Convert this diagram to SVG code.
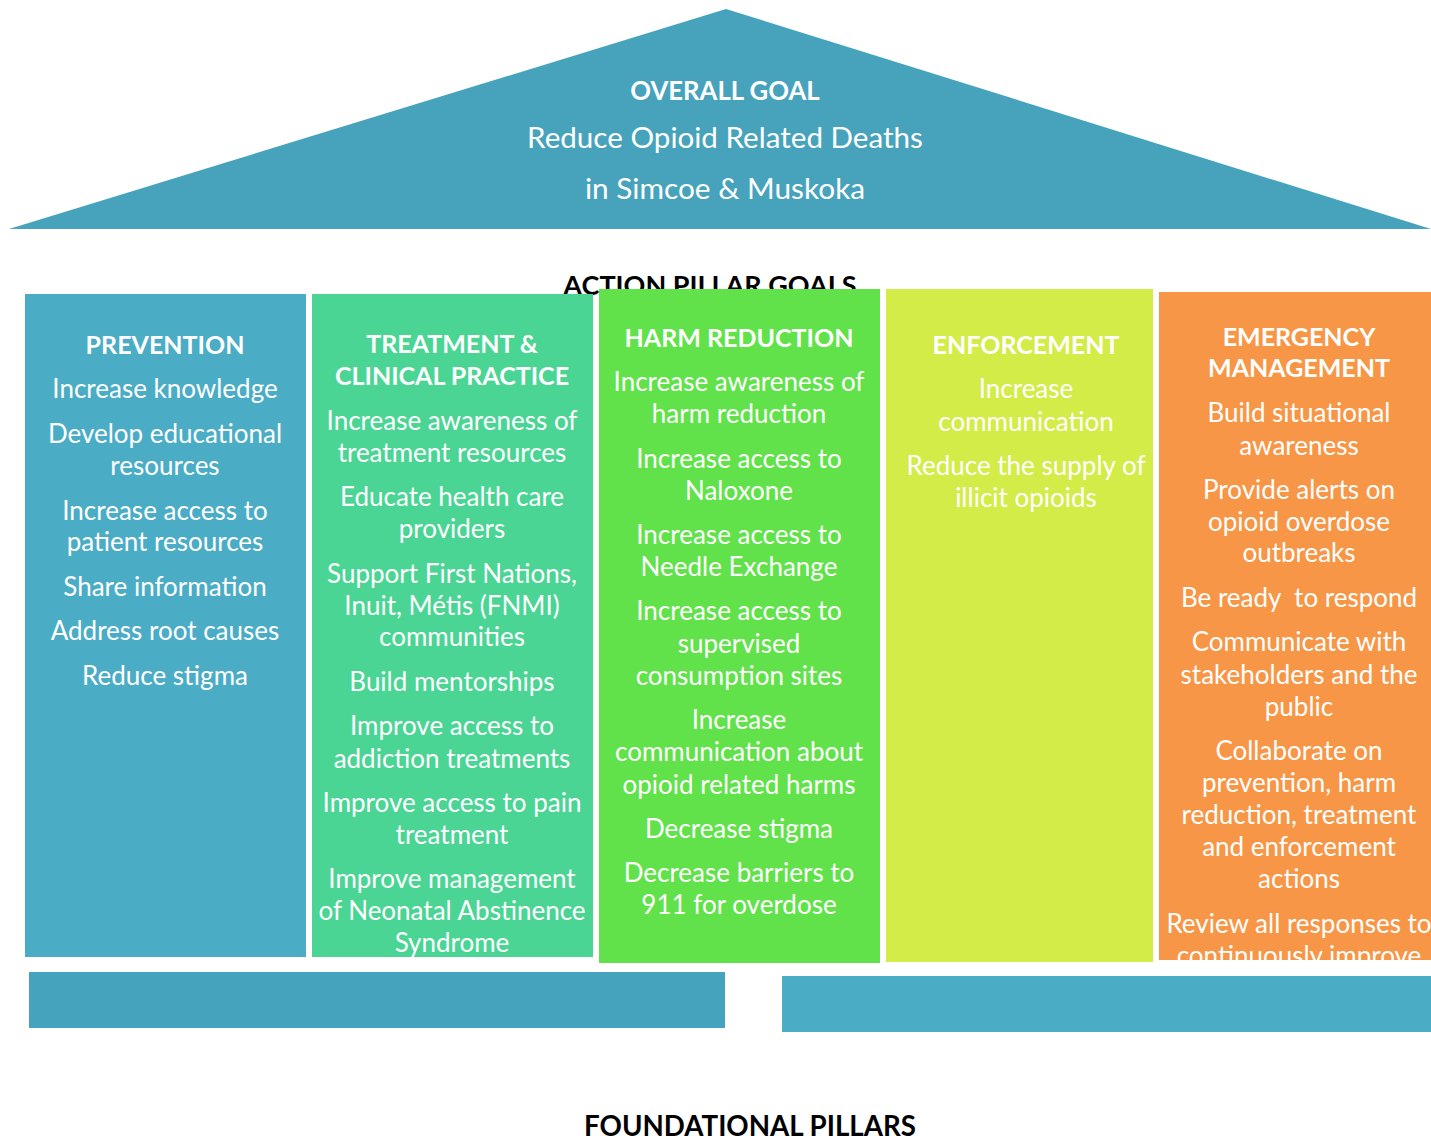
<svg xmlns="http://www.w3.org/2000/svg" width="1431" height="1140" viewBox="0 0 1431 1140">
<style>
.t{font-family:Lato,"Open Sans","Liberation Sans",sans-serif;fill:#fff;text-anchor:middle;font-size:26px}
.h{font-family:Lato,"Open Sans","Liberation Sans",sans-serif;fill:#fff;text-anchor:middle;font-size:25px;font-weight:bold}
.k{font-family:Lato,"Open Sans","Liberation Sans",sans-serif;fill:#000;text-anchor:middle;font-size:27px;font-weight:bold}
</style>
<defs>
<clipPath id="c5"><rect x="1159" y="292" width="272" height="668"/></clipPath>
</defs>
<rect width="1431" height="1140" fill="#fff"/>
<g id="roof">
<polygon points="726,9 9,229 1431,229" fill="#47A3BC"/>
<text class="h" x="725" y="100" style="font-size:25.7px">OVERALL GOAL</text>
<text class="t" x="725" y="148" style="font-size:29.6px">Reduce Opioid Related Deaths</text>
<text class="t" x="725" y="199" style="font-size:29.8px">in Simcoe &amp; Muskoka</text>
</g>
<text class="k" x="710" y="295">ACTION PILLAR GOALS</text>
<g id="prevention">
<rect x="25" y="294" width="281" height="663" fill="#4BACC6"/>
<text class="h" x="165" y="354">PREVENTION</text>
<text class="t" x="165" y="398">Increase knowledge</text>
<text class="t" x="165" y="443">Develop educational</text>
<text class="t" x="165" y="475">resources</text>
<text class="t" x="165" y="520">Increase access to</text>
<text class="t" x="165" y="551">patient resources</text>
<text class="t" x="165" y="596">Share information</text>
<text class="t" x="165" y="640">Address root causes</text>
<text class="t" x="165" y="685">Reduce stigma</text>
</g>
<g id="treatment">
<rect x="312" y="294" width="281" height="663" fill="#4AD594"/>
<text class="h" x="452" y="353">TREATMENT &amp;</text>
<text class="h" x="452" y="385">CLINICAL PRACTICE</text>
<text class="t" x="452" y="430">Increase awareness of</text>
<text class="t" x="452" y="462">treatment resources</text>
<text class="t" x="452" y="506">Educate health care</text>
<text class="t" x="452" y="538">providers</text>
<text class="t" x="452" y="583">Support First Nations,</text>
<text class="t" x="452" y="615">Inuit, Métis (FNMI)</text>
<text class="t" x="452" y="646">communities</text>
<text class="t" x="452" y="691">Build mentorships</text>
<text class="t" x="452" y="735">Improve access to</text>
<text class="t" x="452" y="768">addiction treatments</text>
<text class="t" x="452" y="812">Improve access to pain</text>
<text class="t" x="452" y="844">treatment</text>
<text class="t" x="452" y="888">Improve management</text>
<text class="t" x="452" y="920">of Neonatal Abstinence</text>
<text class="t" x="452" y="952">Syndrome</text>
</g>
<g id="harm-reduction">
<rect x="599" y="289" width="281" height="674" fill="#61E24A"/>
<text class="h" x="739" y="347">HARM REDUCTION</text>
<text class="t" x="739" y="391">Increase awareness of</text>
<text class="t" x="739" y="423">harm reduction</text>
<text class="t" x="739" y="468">Increase access to</text>
<text class="t" x="739" y="500">Naloxone</text>
<text class="t" x="739" y="544">Increase access to</text>
<text class="t" x="739" y="576">Needle Exchange</text>
<text class="t" x="739" y="620">Increase access to</text>
<text class="t" x="739" y="653">supervised</text>
<text class="t" x="739" y="685">consumption sites</text>
<text class="t" x="739" y="729">Increase</text>
<text class="t" x="739" y="761">communication about</text>
<text class="t" x="739" y="794">opioid related harms</text>
<text class="t" x="739" y="838">Decrease stigma</text>
<text class="t" x="739" y="882">Decrease barriers to</text>
<text class="t" x="739" y="914">911 for overdose</text>
</g>
<g id="enforcement">
<rect x="886" y="289" width="267" height="673" fill="#D4EC47"/>
<text class="h" x="1026" y="354">ENFORCEMENT</text>
<text class="t" x="1026" y="398">Increase</text>
<text class="t" x="1026" y="431">communication</text>
<text class="t" x="1026" y="475">Reduce the supply of</text>
<text class="t" x="1026" y="507">illicit opioids</text>
</g>
<g id="emergency">
<rect x="1159" y="292" width="272" height="668" fill="#F79646"/>
<g clip-path="url(#c5)">
<text class="h" x="1299" y="346">EMERGENCY</text>
<text class="h" x="1299" y="377">MANAGEMENT</text>
<text class="t" x="1299" y="422">Build situational</text>
<text class="t" x="1299" y="455">awareness</text>
<text class="t" x="1299" y="499">Provide alerts on</text>
<text class="t" x="1299" y="531">opioid overdose</text>
<text class="t" x="1299" y="562">outbreaks</text>
<text class="t" x="1299" y="607" xml:space="preserve" style="white-space:pre">Be ready  to respond</text>
<text class="t" x="1299" y="651">Communicate with</text>
<text class="t" x="1299" y="684">stakeholders and the</text>
<text class="t" x="1299" y="716">public</text>
<text class="t" x="1299" y="760">Collaborate on</text>
<text class="t" x="1299" y="792">prevention, harm</text>
<text class="t" x="1299" y="824">reduction, treatment</text>
<text class="t" x="1299" y="856">and enforcement</text>
<text class="t" x="1299" y="888">actions</text>
<text class="t" x="1299" y="933">Review all responses to</text>
<text class="t" x="1299" y="965">continuously improve</text>
</g>
</g>
<g id="foundation">
<rect x="29" y="972" width="696" height="56" fill="#46A3BD"/>
<rect x="782" y="976" width="649" height="56" fill="#4BACC6"/>
</g>
<g id="connectors"/>
<text class="k" x="750" y="1136" style="font-size:27.7px">FOUNDATIONAL PILLARS</text>
</svg>
